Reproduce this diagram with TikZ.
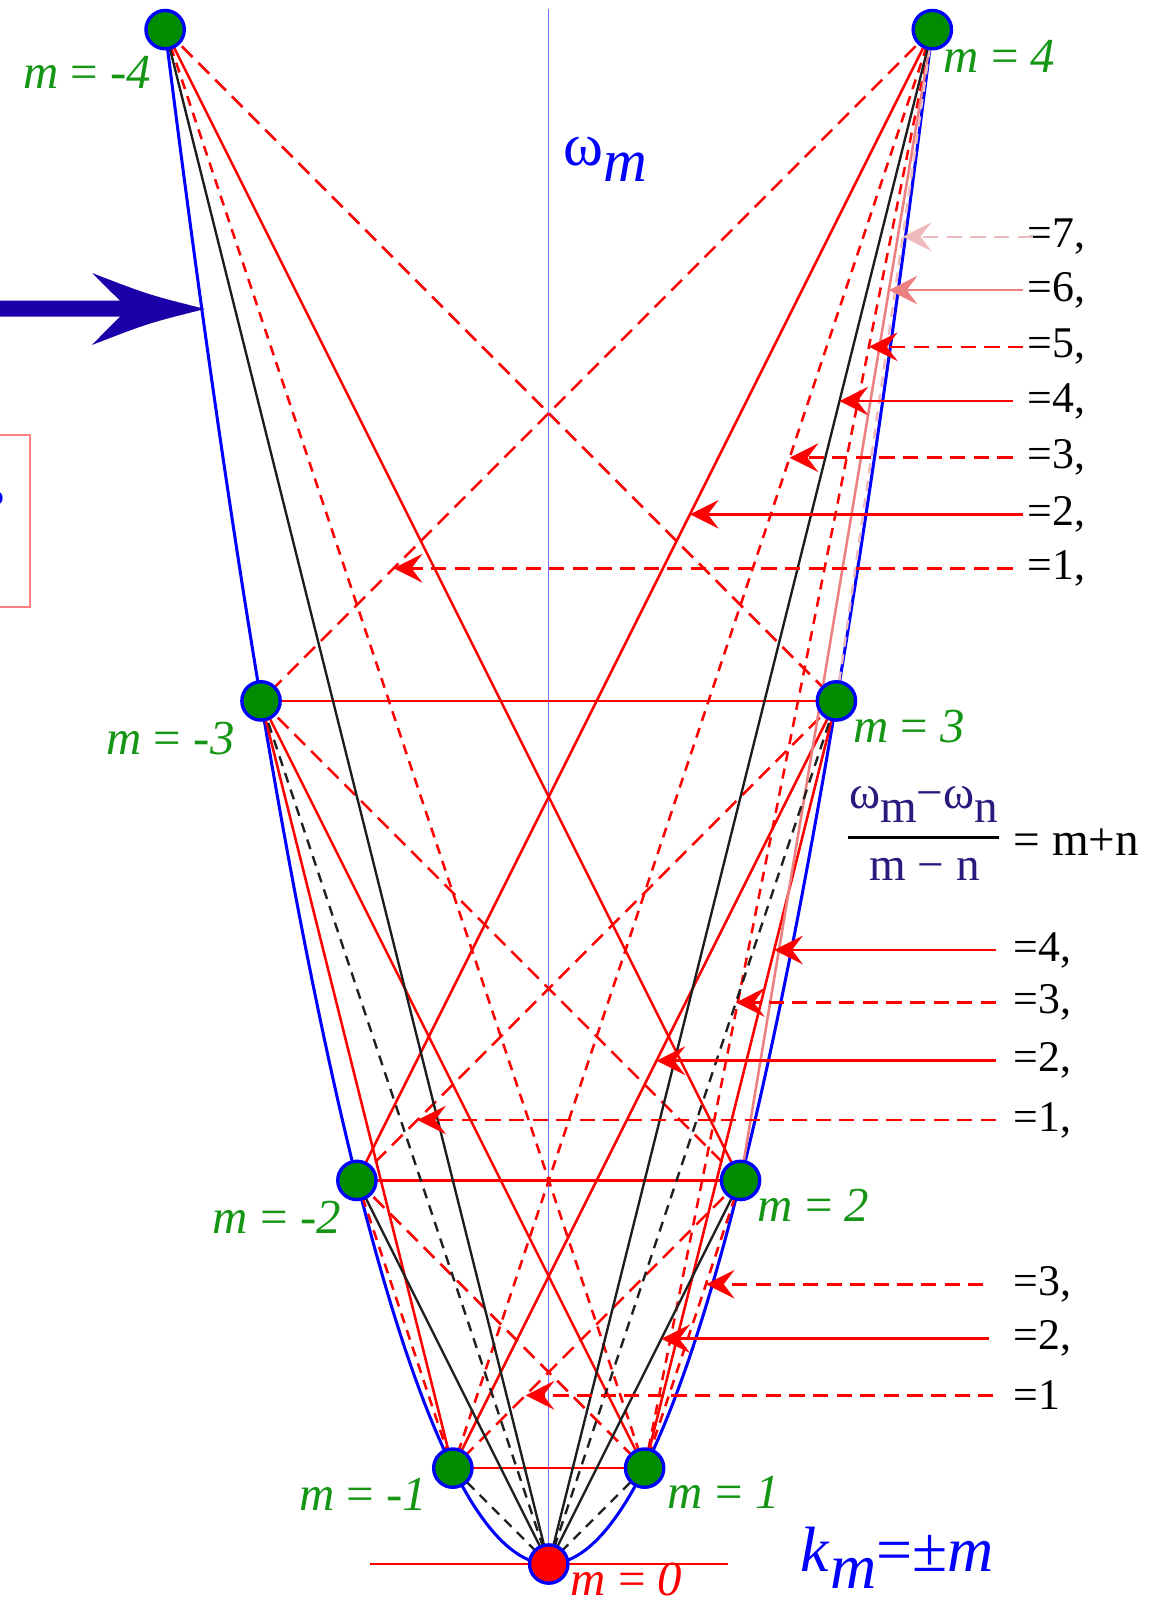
\documentclass[tikz,border=0pt]{standalone}
\usepackage{fontspec}
\setmainfont{Liberation Serif}
\usetikzlibrary{arrows.meta,calc}
\definecolor{dotgreen}{RGB}{0,140,0}
\definecolor{labgreen}{RGB}{20,150,20}
\definecolor{pinkA}{RGB}{236,128,128}
\definecolor{pinkB}{RGB}{238,186,190}
\definecolor{fraccol}{RGB}{45,25,125}
\definecolor{arrowblue}{RGB}{26,0,168}
\definecolor{boxred}{RGB}{255,128,128}
\definecolor{axisblue}{RGB}{110,110,255}
\pgfdeclarelayer{bg}
\pgfsetlayers{bg,main}
\begin{document}
\begin{tikzpicture}[x=1cm,y=1cm,
  dot/.style={circle,draw=blue,line width=1pt,fill=dotgreen,minimum size=0.4cm,inner sep=0pt},
  zdot/.style={dot,fill=red},
  mlab/.style={text=labgreen,font=\fontsize{14.5}{16}\selectfont,inner sep=0pt},
  rl/.style={draw=red,line width=0.75pt},
  bl/.style={draw=black!88,line width=0.7pt},
  ldash/.style={dash pattern=on 4.5pt off 2.5pt},
  sdash/.style={dash pattern=on 3pt off 2.2pt},
  tiparrow/.style={-{Stealth[length=8.5pt,width=8.5pt,inset=3.2pt]},line width=0.75pt},
  eqlab/.style={font=\fontsize{13}{15}\selectfont,inner sep=0pt,anchor=west},
  fraclab/.style={font=\fontsize{14}{16}\selectfont,inner sep=0pt},
]
\useasboundingbox (-5.722,-0.396) rectangle (6.447,16.309);
\clip (-5.722,-0.396) rectangle (6.447,16.309);

% nodes on the parabola
\node[dot] (nm4) at (-4,16) {};
\node[dot] (nm3) at (-3,9) {};
\node[dot] (nm2) at (-2,4) {};
\node[dot] (nm1) at (-1,1) {};
\node[zdot] (n0) at (0,0) {};
\node[dot] (np1) at (1,1) {};
\node[dot] (np2) at (2,4) {};
\node[dot] (np3) at (3,9) {};
\node[dot] (np4) at (4,16) {};

\coordinate (axtop) at (0,16.22);
\coordinate (zl) at (-1.864,0);
\coordinate (zr) at (1.866,0);

\begin{pgfonlayer}{bg}
  \draw[axisblue,line width=0.35pt] (n0.center) -- (axtop);
  \draw[rl] (zl) -- (zr);
  \draw[blue,line width=0.9pt] plot[domain=-4:4,samples=161] (\x,{\x*\x});
  % red long dashed (slope +-1)
  \foreach \a/\b in {np4/nm3,nm4/np3,np3/nm2,nm3/np2,np2/nm1,nm2/np1}
    \draw[rl,ldash] (\a.center) -- (\b.center);
  % red short dashed (slope +-3, 5)
  \foreach \a/\b in {np4/nm1,nm4/np1,np2/np1,nm2/nm1,np4/np1}
    \draw[rl,sdash] (\a.center) -- (\b.center);
  % red solid (even slopes)
  \foreach \a/\b in {nm3/np3,nm2/np2,nm1/np1,np4/nm2,nm4/np2,np3/nm1,nm3/np1,np3/np1,nm3/nm1}
    \draw[rl] (\a.center) -- (\b.center);
  % slope 6 and 7
  \draw[draw=pinkA,line width=0.75pt] (np4.center) -- (np2.center);
  \draw[draw=pinkB,line width=0.75pt,sdash] (np4.center) -- (np3.center);
  % black lines to m=0
  \foreach \b in {np2,nm2,np4,nm4}
    \draw[bl] (n0.center) -- (\b.center);
  \foreach \b in {np1,nm1,np3,nm3}
    \draw[bl,sdash] (n0.center) -- (\b.center);
\end{pgfonlayer}

% labels of the nodes
\node[mlab,anchor=base east] (lm4) at (-4.14,15.39) {\textit{m} = \textit{-4}};
\node[mlab,anchor=base west] (lp4) at (4.11,15.55) {\textit{m} = \textit{4}};
\node[mlab,anchor=base east] (lm3) at (-3.27,8.44) {\textit{m} = \textit{-3}};
\node[mlab,anchor=base west] (lp3) at (3.17,8.57) {\textit{m} = \textit{3}};
\node[mlab,anchor=base east] (lm2) at (-2.16,3.45) {\textit{m} = \textit{-2}};
\node[mlab,anchor=base west] (lp2) at (2.17,3.57) {\textit{m} = \textit{2}};
\node[mlab,anchor=base east] (lm1) at (-1.26,0.56) {\textit{m} = \textit{-1}};
\node[mlab,anchor=base west] (lp1) at (1.235,0.58) {\textit{m} = \textit{1}};
\node[mlab,text=red,anchor=base west] (l0) at (0.22,-0.33) {\textit{m} = \textit{0}};

% omega_m and k_m
\node[text=blue,inner sep=0pt,anchor=base west,font=\fontsize{18}{21}\selectfont] (om) at (0.152,14.588)
  {ω\raisebox{-5pt}{\textit{m}}};
\node[text=blue,inner sep=0pt,anchor=base west,font=\fontsize{19}{22}\selectfont] (km) at (2.622,-0.083)
  {\textit{k}\raisebox{-5pt}{\textit{m}}=±\textit{m}};

% fraction
\node[fraclab,text=fraccol,anchor=base] (fnum) at (3.91,7.88) {ω\raisebox{-4.2pt}{m}−ω\raisebox{-4.2pt}{n}};
\draw[line width=0.9pt] (3.124,7.58) -- (4.694,7.58);
\node[fraclab,text=fraccol,anchor=base] (fden) at (3.92,7.13) {m − n};
\node[fraclab,anchor=base west] (feq) at (4.842,7.39) {= m+n};

% top group of arrows
\node[eqlab] (s7) at (4.987,13.84) {=7,};
\node[eqlab] (s6) at (4.987,13.284) {=6,};
\node[eqlab] (s5) at (4.987,12.693) {=5,};
\node[eqlab] (s4) at (4.987,12.127) {=4,};
\node[eqlab] (s3) at (4.987,11.536) {=3,};
\node[eqlab] (s2) at (4.987,10.946) {=2,};
\node[eqlab] (s1) at (4.987,10.383) {=1,};
\coordinate (t7) at (3.691,13.84);
\coordinate (t6) at (3.547,13.284);
\coordinate (t5) at (3.339,12.693);
\coordinate (t4) at (3.032,12.127);
\coordinate (t3) at (2.512,11.536);
\coordinate (t2) at (1.473,10.946);
\coordinate (t1) at (-1.617,10.383);
\draw[tiparrow,pinkB,ldash] ([xshift=0.06cm]s7.west) -- (t7);
\draw[tiparrow,pinkA] ([xshift=-0.04cm]s6.west) -- (t6);
\draw[tiparrow,red,ldash] ([xshift=-0.04cm]s5.west) -- (t5);
\draw[tiparrow,red] ([xshift=-0.15cm]s4.west) -- (t4);
\draw[tiparrow,red,ldash] ([xshift=-0.15cm]s3.west) -- (t3);
\draw[tiparrow,red] ([xshift=-0.04cm]s2.west) -- (t2);
\draw[tiparrow,red,ldash] ([xshift=-0.15cm]s1.west) -- (t1);

% middle group
\node[eqlab] (m4) at (4.842,6.403) {=4,};
\node[eqlab] (m3) at (4.842,5.856) {=3,};
\node[eqlab] (m2) at (4.842,5.248) {=2,};
\node[eqlab] (m1) at (4.842,4.63) {=1,};
\coordinate (u4) at (2.351,6.403);
\coordinate (u3) at (1.952,5.856);
\coordinate (u2) at (1.124,5.248);
\coordinate (u1) at (-1.37,4.63);
\draw[tiparrow,red] ([xshift=-0.178cm]m4.west) -- (u4);
\draw[tiparrow,red,ldash] ([xshift=-0.178cm]m3.west) -- (u3);
\draw[tiparrow,red] ([xshift=-0.178cm]m2.west) -- (u2);
\draw[tiparrow,red,ldash] ([xshift=-0.178cm]m1.west) -- (u1);

% bottom group
\node[eqlab] (b3) at (4.842,2.917) {=3,};
\node[eqlab] (b2) at (4.842,2.349) {=2,};
\node[eqlab] (b1) at (4.842,1.759) {=1};
\coordinate (v3) at (1.639,2.917);
\coordinate (v2) at (1.175,2.349);
\coordinate (v1) at (-0.241,1.759);
\draw[tiparrow,red,ldash] ([xshift=-0.31cm]b3.west) -- (v3);
\draw[tiparrow,red] ([xshift=-0.248cm]b2.west) -- (v2);
\draw[tiparrow,red,ldash] ([xshift=-0.206cm]b1.west) -- (v1);

% big blue arrow from the left
\fill[arrowblue] (-5.9,13.175) -- (-4.47,13.175)
  .. controls (-4.58,13.28) .. (-4.762,13.462)
  .. controls (-4.173,13.235) .. (-3.584,13.087)
  .. controls (-4.173,12.94) .. (-4.762,12.712)
  .. controls (-4.58,12.9) .. (-4.47,13.006)
  -- (-5.9,13.006) -- cycle;

% partial red box at the left edge
\draw[boxred,line width=0.6pt] (-6,11.773) -- (-5.404,11.773) -- (-5.404,9.979) -- (-6,9.979);
\fill[blue] (-5.75,11.116) ellipse (0.055 and 0.07);
\end{tikzpicture}
\end{document}
